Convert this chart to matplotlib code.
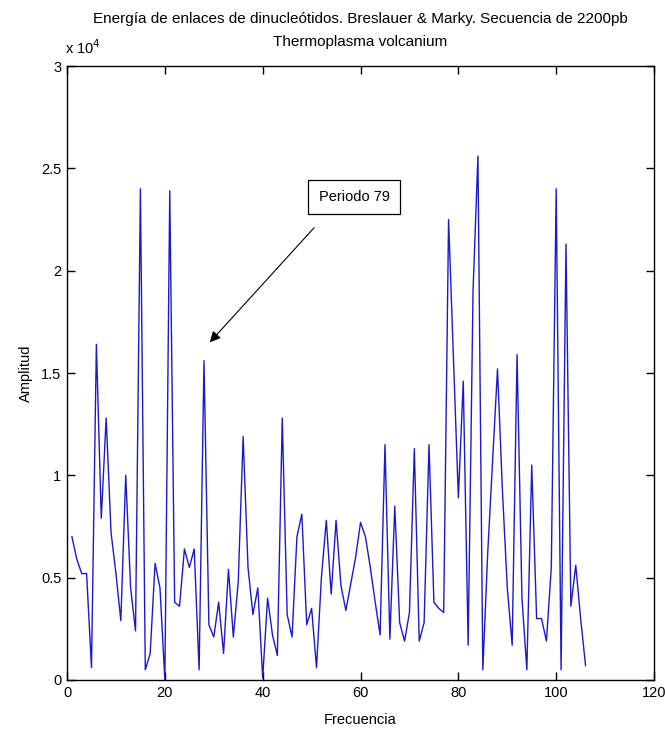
import numpy as np
import matplotlib
matplotlib.use("Agg")
import matplotlib.pyplot as plt
from matplotlib.ticker import FuncFormatter

# Espectro de energia de enlaces (amplitud en unidades de 1e4)
frecuencia = np.arange(1, 107)
amplitud = np.array([
    0.70, 0.59, 0.52, 0.52, 0.06, 1.64, 0.79, 1.28, 0.72, 0.52,
    0.29, 1.00, 0.45, 0.24, 2.40, 0.05, 0.13, 0.57, 0.45, 0.00,
    2.39, 0.38, 0.36, 0.64, 0.55, 0.64, 0.05, 1.56, 0.27, 0.21,
    0.38, 0.13, 0.54, 0.21, 0.48, 1.19, 0.55, 0.32, 0.45, 0.01,
    0.40, 0.22, 0.12, 1.28, 0.32, 0.21, 0.70, 0.81, 0.27, 0.35,
    0.06, 0.50, 0.78, 0.42, 0.78, 0.46, 0.34, 0.47, 0.60, 0.77,
    0.70, 0.55, 0.38, 0.22, 1.15, 0.20, 0.85, 0.28, 0.19, 0.33,
    1.13, 0.19, 0.28, 1.15, 0.38, 0.35, 0.33, 2.25, 1.57, 0.89,
    1.46, 0.17, 1.90, 2.56, 0.05, 0.62, 1.07, 1.52, 0.93, 0.45,
    0.17, 1.59, 0.40, 0.05, 1.05, 0.30, 0.30, 0.19, 0.55, 2.40,
    0.05, 2.13, 0.36, 0.56, 0.30, 0.07,
]) * 1e4

xticks = [0, 20, 40, 60, 80, 100, 120]
yticks = [0, 5000, 10000, 15000, 20000, 25000, 30000]

plt.rcParams['font.family'] = ['Liberation Sans', 'DejaVu Sans']
plt.rcParams['font.size'] = 10

fig = plt.figure(figsize=(6.65, 7.36), dpi=100)
ax = fig.add_axes([0.1008, 0.0761, 0.8827, 0.8342])

ax.plot(frecuencia, amplitud, color=(0.1, 0.1, 0.8), lw=1.0)

ax.set_xlim(0, 120)
ax.set_ylim(0, 30000)
ax.set_xticks(xticks)
ax.set_yticks(yticks)
ax.yaxis.set_major_formatter(FuncFormatter(lambda v, p: f"{v / 1e4:g}"))
ax.tick_params(direction='in', length=6, width=1, top=True, right=True,
               labelsize=10.5, pad=4)
for s in ax.spines.values():
    s.set_linewidth(1.0)

ax.set_xlabel("Frecuencia", fontsize=10.5, labelpad=10)
ax.set_ylabel("Amplitud", fontsize=10.5, labelpad=6)

# titulo en dos lineas
tx = ax.get_position().x0 + ax.get_position().width / 2
fig.text(tx, 0.9742, "Energía de enlaces de dinucleótidos. Breslauer & Marky. Secuencia de 2200pb",
         fontsize=11, ha='center', va='center')
fig.text(tx, 0.9435, "Thermoplasma volcanium", fontsize=11, ha='center', va='center')

# factor de escala del eje y
ax.text(-0.4, 30000 + 450, r"x 10$^4$", fontsize=10.5, ha='left', va='bottom')

# marca del pico de periodo 79
ax.annotate("", xy=(28.8, 16400), xytext=(50.9, 22200),
            arrowprops=dict(arrowstyle='-|>', color='black', lw=0.8,
                            mutation_scale=16))
ax.text(58.7, 23600, "Periodo 79", fontsize=10.5, ha='center', va='center',
        bbox=dict(boxstyle='square,pad=0.7', fc='white', ec='black', lw=0.9))

fig.savefig("out.png", dpi=100)
